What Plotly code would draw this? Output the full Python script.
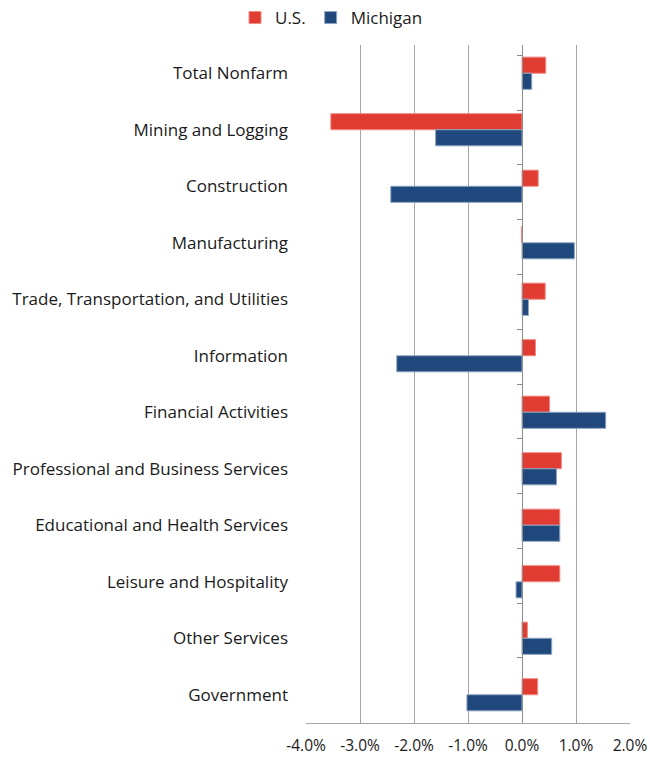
import plotly.graph_objects as go

categories = [
    'Total Nonfarm',
    'Mining and Logging',
    'Construction',
    'Manufacturing',
    'Trade, Transportation, and Utilities',
    'Information',
    'Financial Activities',
    'Professional and Business Services',
    'Educational and Health Services',
    'Leisure and Hospitality',
    'Other Services',
    'Government',
]

us_values = [0.0044, -0.0354, 0.0030, -0.0001, 0.0043, 0.0025,
             0.0051, 0.0073, 0.0070, 0.0070, 0.0010, 0.0029]
mi_values = [0.0018, -0.0160, -0.0243, 0.0097, 0.0012, -0.0232,
             0.0155, 0.0064, 0.0070, -0.0011, 0.0055, -0.0102]

x_ticks = [-0.04, -0.03, -0.02, -0.01, 0.0, 0.01, 0.02]
x_tick_text = ['-4.0%', '-3.0%', '-2.0%', '-1.0%', '0.0%', '1.0%', '2.0%']

FONT = 'Open Sans'
RED = '#E03C31'
BLUE = '#1F497D'

fig = go.Figure()
fig.add_trace(go.Bar(
    y=categories, x=us_values, name='U.S.', orientation='h',
    marker=dict(color=RED, line=dict(color='#F08A84', width=1)),
))
fig.add_trace(go.Bar(
    y=categories, x=mi_values, name='Michigan', orientation='h',
    marker=dict(color=BLUE, line=dict(color='#8FA4C0', width=1)),
))
# invisible trace so the zero-positioned axis (ticks at category edges) has data
fig.add_trace(go.Scatter(
    y=categories, x=[0] * len(categories), yaxis='y2', mode='markers',
    marker=dict(opacity=0), showlegend=False, hoverinfo='skip',
))

W, H = 650, 759

fig.update_layout(
    width=W, height=H,
    margin=dict(l=306, r=W - 630, t=45, b=36, autoexpand=False),
    paper_bgcolor='white', plot_bgcolor='white',
    barmode='group', bargap=0.43, bargroupgap=0,
    font=dict(family=FONT, size=17, color='#1a1a1a'),
    legend=dict(orientation='h', xref='container', x=0.51, xanchor='center',
                yref='container', y=1 - 18 / H, yanchor='middle',
                font=dict(size=17), traceorder='normal'),
    xaxis=dict(
        range=[-0.04, 0.02], tickvals=x_ticks, ticktext=x_tick_text,
        showgrid=True, gridcolor='#A6A6A6', gridwidth=1,
        zeroline=False, showline=True, linecolor='#A6A6A6', linewidth=1,
        tickfont=dict(size=15.5), ticks='', ticklabelstandoff=8,
        automargin=False,
    ),
    yaxis=dict(
        autorange='reversed', showgrid=False, zeroline=False,
        showline=False, ticks='', ticklabelstandoff=17,
        tickfont=dict(size=17), automargin=False,
    ),
    yaxis2=dict(
        overlaying='y', anchor='free', position=4 / 6, side='left',
        autorange='reversed', showgrid=False, zeroline=False,
        showline=True, linecolor='#8C8C8C', linewidth=1,
        ticks='outside', ticklen=5, tickcolor='#8C8C8C', tickson='boundaries',
        showticklabels=False, type='category', automargin=False,
    ),
)

# drop the default 8px body margin so the 650x759 figure fills the window
fig.write_html('out.html', config={'displayModeBar': False},
               post_script="document.body.style.margin='0';")
